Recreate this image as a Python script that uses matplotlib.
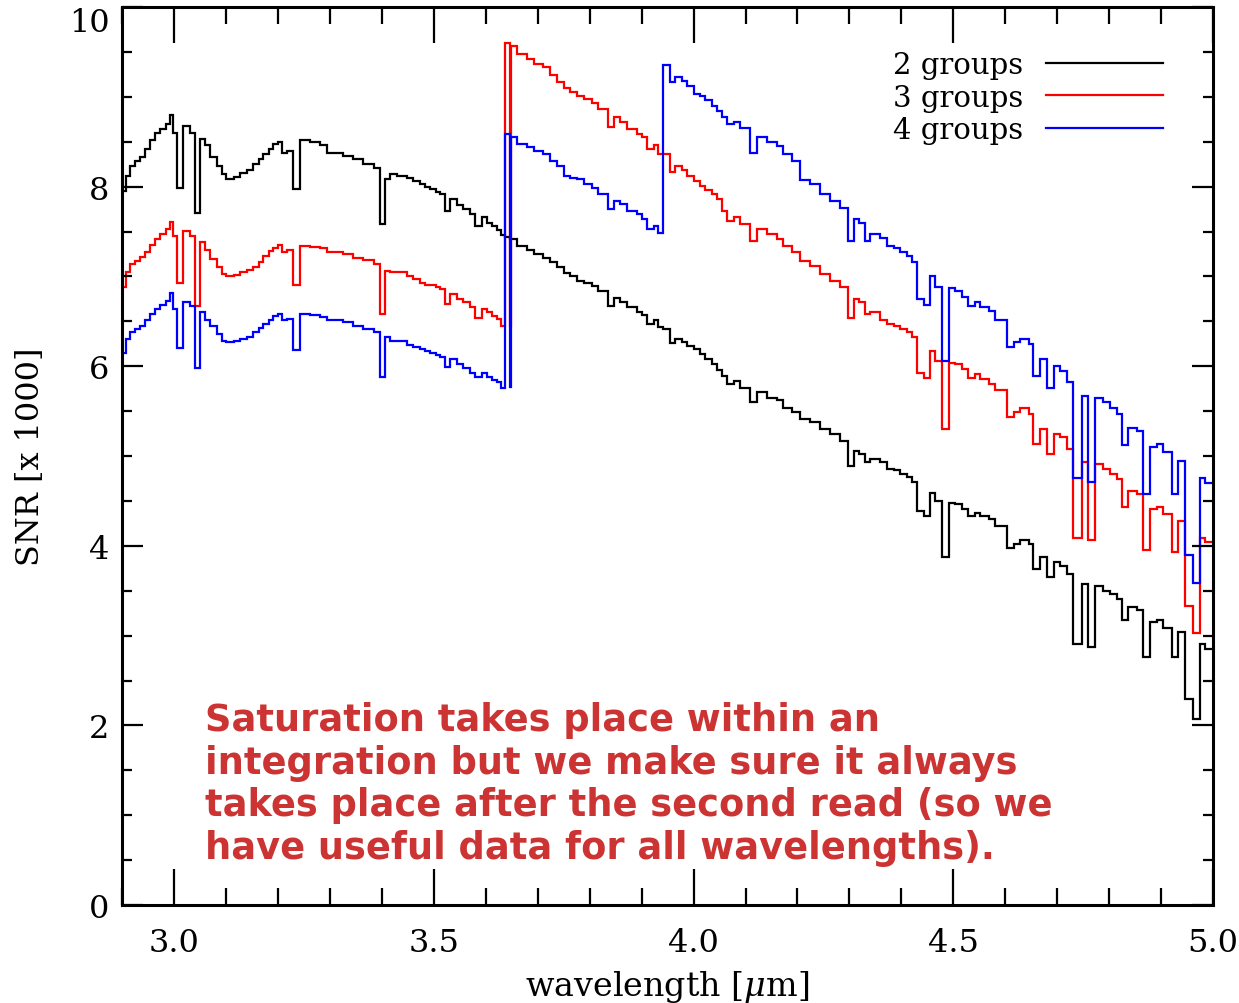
import numpy as np
import matplotlib
matplotlib.use("Agg")
import matplotlib.pyplot as plt
from matplotlib.ticker import MultipleLocator

# step starts in micron (last edge closes the spectrum at 5.0)
wavelength = [
    2.900, 2.908, 2.915, 2.925, 2.935, 2.945, 2.954, 2.963, 2.973, 2.984,
    2.992, 2.999, 3.006, 3.017, 3.031, 3.041, 3.050, 3.060, 3.069, 3.082,
    3.092, 3.101, 3.115, 3.127, 3.140, 3.153, 3.163, 3.172, 3.182, 3.191,
    3.200, 3.207, 3.218, 3.230, 3.243, 3.262, 3.281, 3.294,
    3.310, 3.326, 3.345, 3.364, 3.384, 3.397, 3.406, 3.416, 3.430, 3.448,
    3.460, 3.474, 3.484, 3.493, 3.505, 3.512, 3.522, 3.531, 3.544, 3.556,
    3.570, 3.579, 3.592, 3.602, 3.612, 3.621, 3.630,
    3.637, 3.646, 3.648, 3.660, 3.679, 3.692, 3.711, 3.724, 3.737, 3.750,
    3.763, 3.775, 3.789, 3.804, 3.817, 3.836, 3.846, 3.859, 3.872, 3.891,
    3.900, 3.910, 3.923, 3.932,
    3.942, 3.955, 3.965, 3.978, 3.987, 4.000, 4.013, 4.022, 4.035, 4.045,
    4.054, 4.064, 4.077, 4.090, 4.109, 4.122, 4.141, 4.160, 4.173, 4.189,
    4.205, 4.224, 4.244, 4.263, 4.282, 4.298,
    4.308, 4.318, 4.330, 4.340, 4.359, 4.372, 4.385, 4.398, 4.411, 4.420,
    4.430, 4.443, 4.455, 4.465, 4.478, 4.491, 4.503, 4.516, 4.529, 4.542,
    4.552, 4.568, 4.581, 4.604, 4.616, 4.629, 4.645, 4.654, 4.667, 4.680,
    4.693, 4.706, 4.718,
    4.731, 4.747, 4.760, 4.773, 4.789, 4.802, 4.815, 4.824, 4.837, 4.853,
    4.866, 4.879, 4.892, 4.904, 4.921, 4.933, 4.946, 4.962, 4.975, 4.985,
    5.000,
]

snr_2groups = [
    7.95, 8.12, 8.23, 8.28, 8.33, 8.42, 8.52, 8.60, 8.64, 8.70,
    8.80, 8.60, 7.99, 8.68, 8.60, 7.71, 8.53, 8.46, 8.33, 8.23,
    8.14, 8.09, 8.11, 8.15, 8.19, 8.25, 8.31, 8.36, 8.42, 8.47,
    8.50, 8.38, 8.40, 7.97, 8.52, 8.50, 8.46, 8.38,
    8.38, 8.34, 8.31, 8.25, 8.21, 7.58, 8.08, 8.14, 8.12, 8.10,
    8.06, 8.03, 8.00, 7.97, 7.94, 7.92, 7.73, 7.86, 7.79, 7.75,
    7.69, 7.56, 7.66, 7.60, 7.56, 7.52, 7.46,
    7.44, 7.42, 7.42, 7.34, 7.29, 7.25, 7.20, 7.16, 7.10, 7.04,
    7.00, 6.95, 6.93, 6.89, 6.84, 6.67, 6.76, 6.72, 6.66, 6.60,
    6.57, 6.47, 6.51, 6.44,
    6.41, 6.26, 6.30, 6.27, 6.23, 6.19, 6.14, 6.08, 6.02, 5.96,
    5.89, 5.80, 5.84, 5.76, 5.60, 5.71, 5.65, 5.62, 5.54, 5.49,
    5.41, 5.38, 5.30, 5.24, 5.17, 4.89,
    5.06, 5.02, 4.93, 4.97, 4.93, 4.86, 4.84, 4.80, 4.77, 4.71,
    4.39, 4.33, 4.59, 4.50, 3.87, 4.48, 4.47, 4.41, 4.33, 4.37,
    4.33, 4.30, 4.22, 3.98, 4.02, 4.06, 4.02, 3.74, 3.87, 3.65,
    3.82, 3.78, 3.69,
    2.91, 3.57, 2.87, 3.55, 3.50, 3.46, 3.41, 3.17, 3.32, 3.28,
    2.76, 3.15, 3.17, 3.09, 2.76, 3.04, 2.29, 2.07, 2.91, 2.85,
]

snr_3groups = [
    6.88, 7.05, 7.14, 7.17, 7.22, 7.27, 7.35, 7.42, 7.47, 7.53,
    7.61, 7.45, 6.93, 7.51, 7.45, 6.67, 7.38, 7.29, 7.19, 7.10,
    7.03, 7.01, 7.02, 7.05, 7.07, 7.10, 7.16, 7.23, 7.28, 7.32,
    7.35, 7.27, 7.29, 6.91, 7.34, 7.33, 7.32, 7.27,
    7.27, 7.25, 7.21, 7.18, 7.14, 6.58, 7.06, 7.05, 7.05, 7.01,
    6.97, 6.93, 6.91, 6.90, 6.88, 6.86, 6.69, 6.80, 6.75, 6.71,
    6.66, 6.54, 6.64, 6.60, 6.56, 6.53, 6.45,
    9.60, 6.45, 9.57, 9.48, 9.42, 9.37, 9.33, 9.24, 9.17, 9.10,
    9.05, 9.01, 8.98, 8.93, 8.86, 8.66, 8.77, 8.72, 8.64, 8.59,
    8.55, 8.42, 8.46, 8.36,
    8.36, 8.16, 8.23, 8.18, 8.12, 8.06, 8.01, 7.96, 7.92, 7.86,
    7.73, 7.62, 7.66, 7.58, 7.40, 7.53, 7.47, 7.42, 7.34, 7.27,
    7.17, 7.12, 7.03, 6.95, 6.88, 6.54,
    6.75, 6.72, 6.58, 6.60, 6.52, 6.47, 6.45, 6.41, 6.38, 6.32,
    5.93, 5.87, 6.17, 6.06, 5.30, 6.04, 6.02, 5.97, 5.87, 5.91,
    5.86, 5.80, 5.73, 5.43, 5.49, 5.53, 5.47, 5.13, 5.30, 5.02,
    5.25, 5.21, 5.08,
    4.09, 4.93, 4.06, 4.91, 4.86, 4.80, 4.74, 4.43, 4.61, 4.58,
    3.95, 4.41, 4.43, 4.35, 3.93, 4.28, 3.33, 3.03, 4.09, 4.04,
]

snr_4groups = [
    6.15, 6.30, 6.38, 6.42, 6.45, 6.52, 6.58, 6.64, 6.68, 6.73,
    6.81, 6.64, 6.20, 6.72, 6.67, 5.98, 6.60, 6.52, 6.45, 6.36,
    6.28, 6.27, 6.28, 6.30, 6.33, 6.38, 6.43, 6.47, 6.52, 6.56,
    6.58, 6.51, 6.53, 6.18, 6.58, 6.57, 6.55, 6.51,
    6.51, 6.49, 6.45, 6.41, 6.38, 5.88, 6.32, 6.28, 6.28, 6.24,
    6.21, 6.19, 6.17, 6.15, 6.12, 6.10, 5.99, 6.08, 6.02, 5.98,
    5.93, 5.88, 5.93, 5.88, 5.85, 5.82, 5.76,
    8.59, 5.77, 8.55, 8.47, 8.44, 8.40, 8.36, 8.29, 8.23, 8.12,
    8.10, 8.08, 8.03, 7.99, 7.92, 7.75, 7.84, 7.81, 7.73, 7.69,
    7.64, 7.53, 7.56, 7.48,
    9.35, 9.16, 9.22, 9.18, 9.12, 9.03, 9.01, 8.96, 8.90, 8.84,
    8.78, 8.70, 8.72, 8.65, 8.38, 8.55, 8.50, 8.45, 8.36, 8.28,
    8.07, 8.03, 7.92, 7.84, 7.76, 7.40,
    7.64, 7.60, 7.40, 7.47, 7.43, 7.34, 7.32, 7.27, 7.23, 7.16,
    6.75, 6.68, 7.01, 6.88, 6.06, 6.87, 6.84, 6.77, 6.67, 6.72,
    6.66, 6.61, 6.52, 6.21, 6.27, 6.30, 6.25, 5.89, 6.08, 5.76,
    6.00, 5.95, 5.82,
    4.76, 5.67, 4.71, 5.65, 5.60, 5.54, 5.47, 5.12, 5.31, 5.28,
    4.58, 5.10, 5.13, 5.04, 4.58, 4.95, 3.90, 3.59, 4.76, 4.70,
]

labels = ["2 groups", "3 groups", "4 groups"]
colors = ["black", "#ff0000", "#0000ff"]

note = ("Saturation takes place within an\n"
        "integration but we make sure it always\n"
        "takes place after the second read (so we\n"
        "have useful data for all wavelengths).")

plt.rcParams["font.family"] = "DejaVu Serif"
plt.rcParams["mathtext.fontset"] = "dejavuserif"

fig = plt.figure(figsize=(12.39, 10.04), dpi=100)
ax = fig.add_axes([0.0985, 0.0976, 0.8806, 0.8944])

edges = np.array(wavelength)
for vals, lab, col in zip([snr_2groups, snr_3groups, snr_4groups], labels, colors):
    ax.stairs(vals, edges, baseline=None, color=col, linewidth=1.6, label=lab)

ax.set_xlim(2.9, 5.0)
ax.set_ylim(0, 10)
ax.xaxis.set_major_locator(MultipleLocator(0.5))
ax.xaxis.set_minor_locator(MultipleLocator(0.1))
ax.yaxis.set_major_locator(MultipleLocator(2))
ax.yaxis.set_minor_locator(MultipleLocator(0.5))
ax.xaxis.set_major_formatter(matplotlib.ticker.FormatStrFormatter("%.1f"))

ax.tick_params(axis="both", which="both", direction="in", top=True, right=True,
               width=1.6, labelsize=23)
ax.tick_params(axis="x", which="major", length=26, pad=16)
ax.tick_params(axis="x", which="minor", length=12)
ax.tick_params(axis="y", which="major", length=15, pad=9)
ax.tick_params(axis="y", which="minor", length=7.5)
for sp in ax.spines.values():
    sp.set_linewidth(2.2)

# the top label sits just under the frame edge, as in the original
fig.canvas.draw()
for lbl in ax.get_yticklabels():
    if lbl.get_text() == "10":
        lbl.set_verticalalignment("top")

ax.set_xlabel(r"wavelength [$\mu$m]", fontsize=24)
ax.xaxis.set_label_coords(0.5, -0.07)
ax.set_ylabel("SNR [x 1000]", fontsize=23)
ax.yaxis.set_label_coords(-0.07, 0.5)

ax.legend(loc="upper right", bbox_to_anchor=(1163 / 1239, 952 / 1004),
          bbox_transform=fig.transFigure, frameon=False, markerfirst=False,
          fontsize=21, handlelength=4.0, handletextpad=0.8, labelspacing=0.16,
          borderpad=0, borderaxespad=0)

fig.text(205 / 1239, 1 - 702 / 1004, note, ha="left", va="top",
         fontsize=26.5, fontweight="bold", color="#cc3333",
         family="DejaVu Sans", linespacing=1.19)

fig.savefig("out.png", dpi=100)
